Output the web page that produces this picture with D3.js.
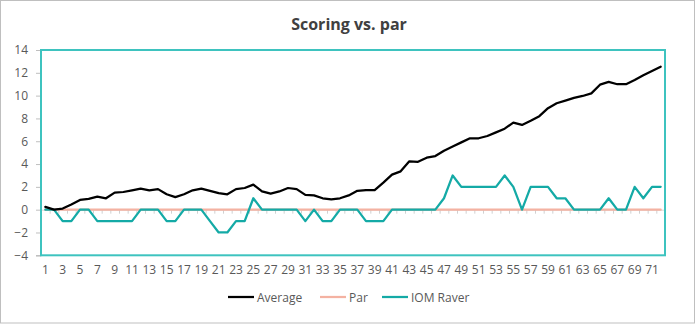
<!DOCTYPE html>
<html><head><meta charset="utf-8">
<script src="https://cdn.jsdelivr.net/npm/d3@7"></script>
<style>
html,body{margin:0;padding:0;background:#fff;}
svg{display:block;font-family:"Open Sans","Noto Sans",sans-serif;}
</style></head>
<body>
<svg id="chart" width="697" height="325"></svg>
<script>
const categories = d3.range(1, 73);
const average = [0.25,0.0,0.1,0.45,0.85,0.95,1.15,1.0,1.5,1.55,1.7,1.85,1.7,1.8,1.35,1.1,1.35,1.7,1.85,1.65,
  1.45,1.35,1.8,1.9,2.2,1.6,1.4,1.6,1.9,1.8,1.3,1.25,1.0,0.9,1.0,1.25,1.65,1.72,1.72,2.37,
  3.07,3.36,4.24,4.2,4.56,4.7,5.17,5.53,5.9,6.26,6.26,6.46,6.78,7.1,7.63,7.43,7.8,8.2,8.9,9.33,
  9.56,9.8,9.97,10.2,10.96,11.2,11.0,11.0,11.37,11.78,12.16,12.54];
const par = categories.map(() => 0);
const iomRaver = [0,0,-1,-1,0,0,-1,-1,-1,-1,-1,0,0,0,-1,-1,0,0,0,-1,
  -2,-2,-1,-1,1,0,0,0,0,0,-1,0,-1,-1,0,0,0,-1,-1,-1,
  0,0,0,0,0,0,1,3,2,2,2,2,2,3,2,0,2,2,2,1,
  1,0,0,0,0,1,0,0,2,1,2,2];
const yTicks = [-4,-2,0,2,4,6,8,10,12,14];
const seriesNames = ["Average","Par","IOM Raver"];
const seriesColors = ["#000000","#f4b2a2","#14aaa6"];

const svg = d3.select("#chart");
// outer chart border
svg.append("rect").attr("x",0.5).attr("y",0.5).attr("width",694).attr("height",322.5)
  .attr("fill","#fff").attr("stroke","#bfbfbf");

svg.append("text").attr("x",349).attr("y",30).attr("text-anchor","middle")
  .attr("font-size",16).attr("font-weight","bold").attr("fill","#404040")
  .text("Scoring vs. par");

const L=41, R=665, T=50, B=255.3;
const x = d3.scaleBand().domain(categories).range([L,R]).padding(0);
const bw = x.bandwidth();
const cx = d => x(d) + bw/2;
const y = d3.scaleLinear().domain([-4,14]).range([B,T]);

// y axis
const ya = svg.append("g").attr("transform",`translate(${L},0)`)
  .call(d3.axisLeft(y).tickValues(yTicks).tickSize(5).tickPadding(8));
ya.select(".domain").attr("stroke","#a6a6a6");
ya.selectAll(".tick line").attr("stroke","#bfbfbf");
ya.selectAll(".tick text").attr("fill","#595959").attr("font-size",12)
  .attr("font-family","Open Sans, sans-serif");

// x axis at zero with boundary ticks
const bounds = d3.range(0, categories.length+1);
const xb = d3.scaleLinear().domain([0,categories.length]).range([L,R]);
const xa = svg.append("g").attr("transform",`translate(0,${y(0)})`)
  .call(d3.axisBottom(xb).tickValues(bounds).tickSize(4).tickFormat(""));
xa.select(".domain").attr("stroke","#d9d9d9");
xa.selectAll(".tick line").attr("stroke","#d0d0d0");

// x labels at bottom
const xl = svg.append("g").attr("transform",`translate(0,${B})`)
  .call(d3.axisBottom(x).tickValues(categories.filter(d=>d%2===1)).tickSize(0).tickPadding(10));
xl.select(".domain").remove();
xl.selectAll(".tick text").attr("fill","#595959").attr("font-size",12)
  .attr("font-family","Open Sans, sans-serif");

// plot area border (teal)
svg.append("rect").attr("x",L).attr("y",T).attr("width",R-L).attr("height",B-T)
  .attr("fill","none").attr("stroke","#3ec3bf").attr("stroke-width",2);

const line = d3.line().x((d,i)=>cx(categories[i])).y(d=>y(d));
const data = [average, par, iomRaver];
// draw par first, then raver, then average
[1,2,0].forEach(k=>{
  svg.append("path").datum(data[k]).attr("d",line).attr("fill","none")
    .attr("stroke",seriesColors[k]).attr("stroke-width",2.25)
    .attr("stroke-linejoin","round").attr("stroke-linecap","round");
});

// legend
const legX = [228, 320, 382];
const lg = svg.append("g");
seriesNames.forEach((n,k)=>{
  lg.append("line").attr("x1",legX[k]).attr("x2",legX[k]+26).attr("y1",297).attr("y2",297)
    .attr("stroke",seriesColors[k]).attr("stroke-width",2.25);
  lg.append("text").attr("x",legX[k]+29).attr("y",301.5).attr("font-size",12)
    .attr("fill","#595959").text(n);
});
</script>
</body></html>
